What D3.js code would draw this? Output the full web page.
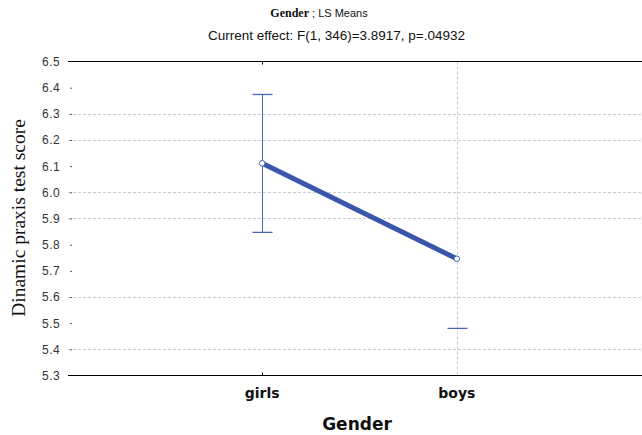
<!DOCTYPE html>
<html>
<head>
<meta charset="utf-8">
<script src="https://cdn.jsdelivr.net/npm/d3@7"></script>
<style>
  body { margin: 0; background: #fff; }
</style>
</head>
<body>
<div id="chart"></div>
<script>
// data
var categories = ["girls", "boys"];
var means = [6.111, 5.746];
var upper = [6.374, 6.012];
var lower = [5.847, 5.480];
var yTicks = [5.3, 5.4, 5.5, 5.6, 5.7, 5.8, 5.9, 6.0, 6.1, 6.2, 6.3, 6.4, 6.5];
var gridValues = [5.4, 5.6, 5.9, 6.0, 6.2, 6.3];

var W = 642, H = 435;
var svg = d3.select("#chart").append("svg")
  .attr("width", W).attr("height", H)
  .style("font-family", "Arial, 'Liberation Sans', sans-serif");

var plotLeft = 68, plotTop = 61.5, plotBottom = 375.5;

// categories at positions 1 and 2 of a 0..3 range
var x = d3.scaleLinear().domain([0, 3]).range([67.5, 651.5]);
var y = d3.scaleLinear().domain([5.3, 6.5]).range([plotBottom, plotTop]);

var blue = "#3a56ab";
var gridColor = "#c8c9d6";

// horizontal gridlines
svg.selectAll(".hgrid")
  .data(gridValues)
  .enter().append("line")
    .attr("x1", plotLeft).attr("x2", W)
    .attr("y1", function(d) { return Math.round(y(d)) + 0.5; })
    .attr("y2", function(d) { return Math.round(y(d)) + 0.5; })
    .attr("stroke", gridColor)
    .attr("stroke-dasharray", "3,2");

// vertical gridline at boys
svg.append("line")
  .attr("x1", Math.round(x(2)) + 0.5).attr("x2", Math.round(x(2)) + 0.5)
  .attr("y1", plotTop).attr("y2", plotBottom)
  .attr("stroke", gridColor)
  .attr("stroke-dasharray", "3,2");

// top and bottom frame lines
svg.append("line").attr("x1", plotLeft).attr("x2", W)
  .attr("y1", y(6.5)).attr("y2", y(6.5))
  .attr("stroke", "#000").attr("stroke-width", 1);
svg.append("line").attr("x1", plotLeft).attr("x2", W)
  .attr("y1", y(5.3)).attr("y2", y(5.3))
  .attr("stroke", "#000").attr("stroke-width", 1);

// little ticks at girls on top/bottom frame
svg.append("line").attr("x1", Math.round(x(1)) + 0.5).attr("x2", Math.round(x(1)) + 0.5)
  .attr("y1", y(6.5)).attr("y2", y(6.5) + 3).attr("stroke", "#000");
svg.append("line").attr("x1", Math.round(x(1)) + 0.5).attr("x2", Math.round(x(1)) + 0.5)
  .attr("y1", y(5.3)).attr("y2", y(5.3) - 3).attr("stroke", "#000");

// y axis (labels and small ticks, no domain line)
var yAxis = svg.append("g")
  .attr("transform", "translate(" + (plotLeft + 4) + ",0)")
  .call(d3.axisLeft(y).tickValues(yTicks).tickFormat(d3.format(".1f")).tickSize(2).tickPadding(10));
yAxis.select(".domain").remove();
yAxis.selectAll(".tick line").attr("stroke", "#555");
yAxis.selectAll("text")
  .attr("font-size", 12)
  .attr("letter-spacing", 0.4)
  .attr("fill", "#333")
  .attr("font-family", "Arial, 'Liberation Sans', sans-serif");
yAxis.selectAll(".tick").filter(function(d) { return d === 6.5 || d === 5.3; })
  .select("line").remove();

// error bars
var capW = 10;
categories.forEach(function(c, i) {
  var cx = Math.round(x(i + 1)) + 0.5;
  if (i === 0) {
    svg.append("line").attr("x1", cx).attr("x2", cx)
      .attr("y1", y(upper[i])).attr("y2", y(lower[i]))
      .attr("stroke", "#4a66ba").attr("stroke-width", 1);
    svg.append("line").attr("x1", cx - capW).attr("x2", cx + capW)
      .attr("y1", y(upper[i])).attr("y2", y(upper[i]))
      .attr("stroke", "#4a66ba").attr("stroke-width", 1.3);
  }
  svg.append("line").attr("x1", cx - capW).attr("x2", cx + capW)
    .attr("y1", y(lower[i])).attr("y2", y(lower[i]))
    .attr("stroke", "#4a66ba").attr("stroke-width", 1.3);
});

// mean line
var pts = means.map(function(m, i) { return [x(i + 1), y(m)]; });
svg.append("path")
  .datum(pts)
  .attr("d", d3.line())
  .attr("fill", "none")
  .attr("stroke", blue)
  .attr("stroke-width", 5);

svg.selectAll(".pt")
  .data(pts)
  .enter().append("circle")
    .attr("cx", function(d) { return d[0]; })
    .attr("cy", function(d) { return d[1]; })
    .attr("r", 2.8)
    .attr("fill", "#fff")
    .attr("stroke", "#4a66ba")
    .attr("stroke-width", 1);

// x tick labels
svg.selectAll(".xlab")
  .data(categories)
  .enter().append("text")
    .attr("x", function(d, i) { return x(i + 1); })
    .attr("y", 398)
    .attr("text-anchor", "middle")
    .attr("font-family", "'DejaVu Sans', Verdana, sans-serif")
    .attr("font-weight", "bold")
    .attr("font-size", 14)
    .attr("fill", "#111")
    .text(function(d) { return d; });

// x title
svg.append("text")
  .attr("x", 357).attr("y", 430)
  .attr("text-anchor", "middle")
  .attr("font-family", "'DejaVu Sans', Verdana, sans-serif")
  .attr("font-weight", "bold")
  .attr("font-size", 17)
  .attr("fill", "#111")
  .text("Gender");

// y title
svg.append("text")
  .attr("transform", "translate(25,218) rotate(-90)")
  .attr("text-anchor", "middle")
  .attr("font-family", "'Liberation Serif', 'Times New Roman', serif")
  .attr("font-size", 19.5)
  .attr("fill", "#111")
  .text("Dinamic praxis test score");

// titles
var t1 = svg.append("text")
  .attr("x", 319).attr("y", 17)
  .attr("text-anchor", "middle")
  .attr("font-size", 11)
  .attr("fill", "#111");
t1.append("tspan")
  .attr("font-family", "'Liberation Serif', 'Times New Roman', serif")
  .attr("font-weight", "bold")
  .attr("font-size", 12)
  .text("Gender");
t1.append("tspan").text(" ; LS Means");

svg.append("text")
  .attr("x", 208).attr("y", 40)
  .attr("textLength", 257)
  .attr("lengthAdjust", "spacingAndGlyphs")
  .attr("font-size", 12)
  .attr("fill", "#111")
  .text("Current effect: F(1, 346)=3.8917, p=.04932");
</script>
</body>
</html>
